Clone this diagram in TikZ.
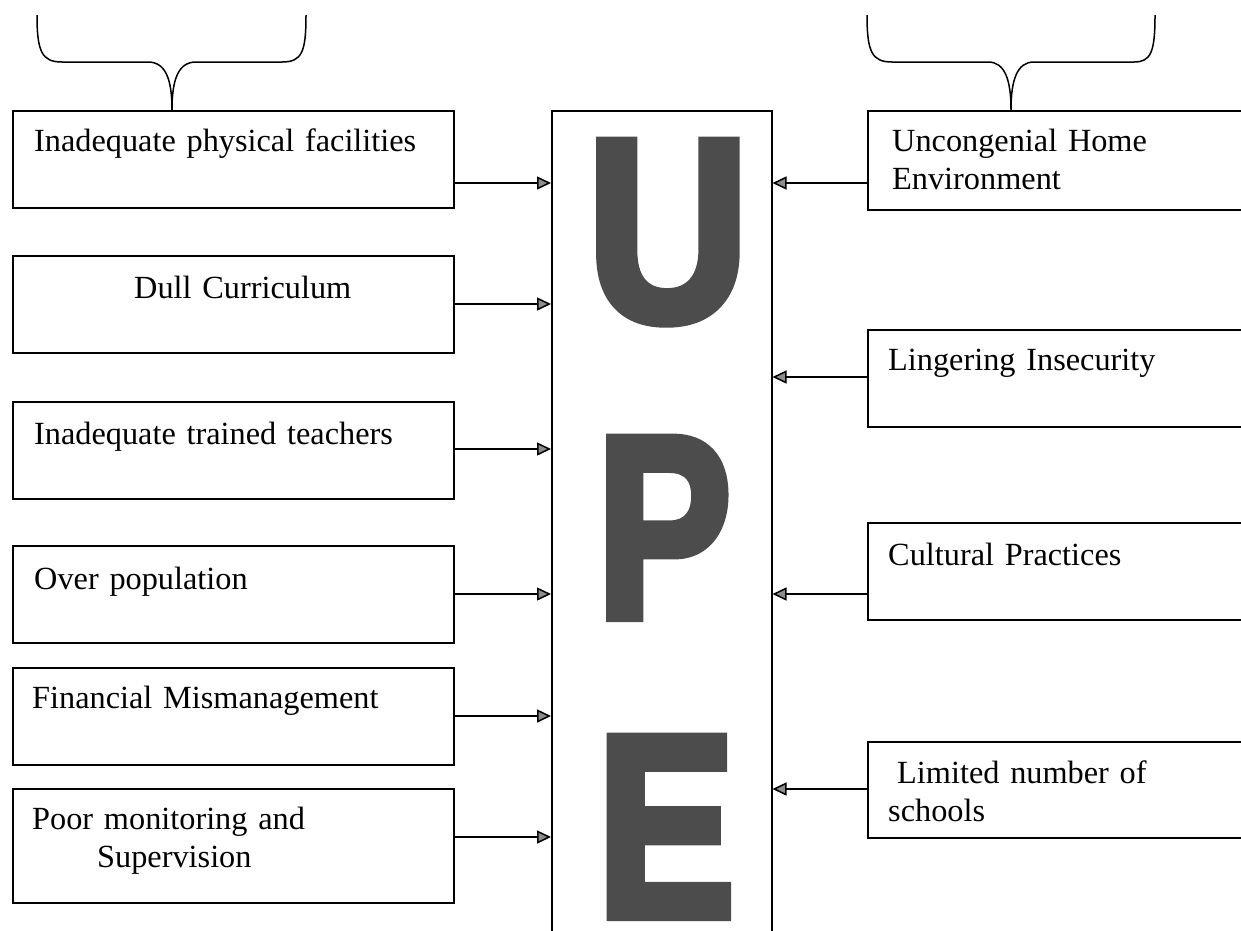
\documentclass[tikz,border=0pt]{standalone}
\usepackage{fontspec}
\setmainfont{Liberation Serif}
\newfontfamily\upefont[FakeBold=4]{Liberation Sans Bold}
\usetikzlibrary{positioning}
\usetikzlibrary{arrows.meta}

\begin{document}
\begin{tikzpicture}[x=1pt,y=-1pt,
  cause/.style={draw,line width=1.5pt,minimum width=441pt,minimum height=97pt,inner sep=0pt,anchor=north west},
  factor/.style={draw,line width=1.5pt,minimum width=400pt,minimum height=97pt,inner sep=0pt,anchor=north west},
  txt/.style={font=\fontsize{32.3}{38.5}\selectfont,text width=420pt,align=left,inner sep=0pt,anchor=base west},
  feed/.style={line width=1.5pt,-{Triangle[length=14pt,width=13pt,fill=black!45]}},
  letter/.style={font=\upefont\fontsize{259}{259}\selectfont,text=black!70,inner sep=0pt,anchor=base}]
 \useasboundingbox (0,0) rectangle (1241,930);
 \clip (0,0) rectangle (1241,930);
 % school based causes
 \node[cause] (c1) at (12,110) {};
 \node[cause] (c2) at (12,255) {};
 \node[cause] (c3) at (12,401) {};
 \node[cause] (c4) at (12,545) {};
 \node[cause] (c5) at (12,667) {};
 \node[cause,minimum height=114pt] (c6) at (12,788) {};
 \node[txt] (t1) at (34,151) {Inadequate physical facilities};
 \node[txt] (t2) at (134,298) {Dull Curriculum};
 \node[txt] (t3) at (34,444) {Inadequate trained teachers};
 \node[txt] (t4) at (34,589) {Over population};
 \node[txt] (t5) at (32,708) {Financial Mismanagement};
 \node[txt] (t6) at (32,829) {Poor monitoring and\\\hspace*{65pt}Supervision};
 % home based causes
 \node[factor,minimum height=99pt] (f1) at (867,110) {};
 \node[factor] (f2) at (867,329) {};
 \node[factor] (f3) at (867,522) {};
 \node[factor,minimum height=96pt] (f4) at (867,741) {};
 \node[txt] (s1) at (892,151) {Uncongenial Home\\Environment};
 \node[txt] (s2) at (888,370) {Lingering Insecurity};
 \node[txt] (s3) at (888,565) {Cultural Practices};
 \node[txt] (s4) at (888,783) {\hspace*{9pt}Limited number of\\schools};
 % UPE column
 \node[draw,line width=1.5pt,minimum width=220pt,minimum height=830pt,inner sep=0pt,anchor=north west] (upe) at (551,110) {};
 \node[letter] (u) at (668,320) {\scalebox{0.865}[1]{U}};
 \node[letter] (p) at (664,617) {\scalebox{0.78}[1]{P}};
 \node[letter] (e) at (666,916) {\scalebox{0.8}[1]{E}};
 % arrows
 \foreach \c/\y in {c1/183,c2/304,c3/449,c4/594,c5/716,c6/837}
   \draw[feed] (\c.east |- 0,\y) -- (upe.west |- 0,\y);
 \foreach \f/\y in {f1/183,f2/377,f3/594,f4/789}
   \draw[feed] (\f.west |- 0,\y) -- (upe.east |- 0,\y);
 % braces
 \draw[line width=1.5pt] (37,15) .. controls (37,52) and (42,62) .. (62,62) -- (148,62)
   .. controls (166,62) and (172,80) .. (172,110) .. controls (172,80) and (178,62) .. (196,62)
   -- (282,62) .. controls (302,62) and (306,52) .. (306,15);
 \draw[line width=1.5pt] (867,15) .. controls (867,52) and (872,62) .. (892,62) -- (988,62)
   .. controls (1005,62) and (1011,80) .. (1011,110) .. controls (1011,80) and (1017,62) .. (1034,62)
   -- (1134,62) .. controls (1151,62) and (1155,52) .. (1155,15);
\end{tikzpicture}
\end{document}
